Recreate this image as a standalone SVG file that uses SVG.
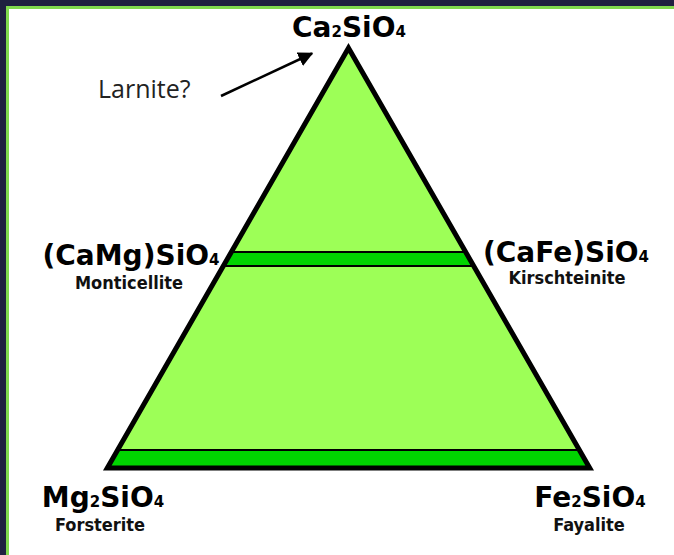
<svg xmlns="http://www.w3.org/2000/svg" width="674" height="555" viewBox="0 0 674 555">
<defs>
<style>
.big{font-family:"DejaVu Sans",sans-serif;font-weight:bold;font-size:28px;fill:#000}
.sub{font-size:15px}
.small{font-family:"DejaVu Sans Condensed","DejaVu Sans",sans-serif;font-stretch:condensed;font-weight:bold;font-size:18px;fill:#111}
.band{fill:#00d400;stroke:none}
.line{stroke:#000;stroke-width:2;fill:none}
</style>
<marker id="ah" viewBox="0 0 10 10" refX="9" refY="5" markerWidth="6" markerHeight="6" markerUnits="strokeWidth" orient="auto">
<path d="M0,0 L10,5 L0,10 z" fill="#000"/>
</marker>
</defs>
<rect x="0" y="0" width="674" height="555" fill="#1f2040"/>
<rect x="6" y="6" width="668" height="549" fill="#80d94e"/>
<rect x="9" y="9" width="665" height="546" fill="#ffffff"/>
<g id="triangle">
<polygon points="348.5,48 107.3,468 589.7,468" fill="#9dff57"/>
<polygon class="band" points="231.3,252 465.7,252 473.7,266 223.3,266"/>
<polygon class="band" points="117.6,450 579.4,450 589.7,468 107.3,468"/>
<line class="line" x1="231" y1="252" x2="466" y2="252"/>
<line class="line" x1="223" y1="266" x2="474" y2="266"/>
<line class="line" x1="117" y1="450" x2="580" y2="450"/>
<polygon points="348.5,48 107.3,468 589.7,468" fill="none" stroke="#000" stroke-width="5" stroke-linejoin="miter" stroke-miterlimit="10"/>
</g>
<g id="connectors">
<line x1="221" y1="96" x2="312" y2="53.5" stroke="#000" stroke-width="2.5" marker-end="url(#ah)"/>
</g>
<g id="node-ca2sio4">
<text class="big" x="349" y="37" text-anchor="middle">Ca<tspan class="sub">2</tspan>SiO<tspan class="sub">4</tspan></text>
</g>
<g id="node-larnite">
<text x="98" y="98" font-family="'Open Sans', sans-serif" font-size="25" fill="#222">Larnite?</text>
</g>
<g id="node-camg">
<text class="big" x="131" y="265" text-anchor="middle">(CaMg)SiO<tspan class="sub">4</tspan></text>
<text class="small" x="129" y="289" text-anchor="middle">Monticellite</text>
</g>
<g id="node-cafe">
<text class="big" x="566" y="262" text-anchor="middle">(CaFe)SiO<tspan class="sub">4</tspan></text>
<text class="small" x="567" y="284" text-anchor="middle">Kirschteinite</text>
</g>
<g id="node-mg2sio4">
<text class="big" x="103" y="507" text-anchor="middle">Mg<tspan class="sub">2</tspan>SiO<tspan class="sub">4</tspan></text>
<text class="small" x="100" y="531" text-anchor="middle">Forsterite</text>
</g>
<g id="node-fe2sio4">
<text class="big" x="590" y="507" text-anchor="middle">Fe<tspan class="sub">2</tspan>SiO<tspan class="sub">4</tspan></text>
<text class="small" x="589" y="531" text-anchor="middle">Fayalite</text>
</g>
</svg>
